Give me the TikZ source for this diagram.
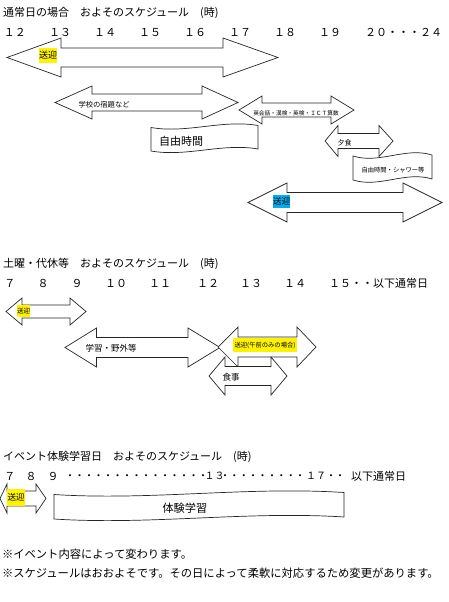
\documentclass[tikz,border=0pt]{standalone}
\usepackage{fontspec}
\setmainfont{Noto Sans CJK JP}
\newcommand\FS[1]{\fontsize{#1pt}{#1pt}\selectfont}
% double arrow: x1,x2,yc,head length left,head length right,head half height,shaft half height
\newcommand\DArrow[7]{%
  \draw[arr] (#1,#3) -- ({#1+#4},{#3-#6}) -- ({#1+#4},{#3-#7}) -- ({#2-#5},{#3-#7}) -- ({#2-#5},{#3-#6}) -- (#2,#3)
    -- ({#2-#5},{#3+#6}) -- ({#2-#5},{#3+#7}) -- ({#1+#4},{#3+#7}) -- ({#1+#4},{#3+#6}) -- cycle;}
% wave box: x1,y1(top left),x2,y2(top right),height,amplitude
\newcommand\WBox[6]{%
  \draw[wbox] (#1,#2) .. controls ({#1+(#3-#1)/3},{(2*#2+#4)/3+3.46*#6}) and ({#1+2*(#3-#1)/3},{(#2+2*#4)/3-3.46*#6}) .. (#3,#4)
    -- (#3,{#4+#5}) .. controls ({#1+2*(#3-#1)/3},{(#2+2*#4)/3+#5-3.46*#6}) and ({#1+(#3-#1)/3},{(2*#2+#4)/3+#5+3.46*#6}) .. (#1,{#2+#5}) -- cycle;}
\tikzset{
  arr/.style={draw=black!85, line width=0.7pt, fill=white, line join=miter},
  wbox/.style={draw=black!85, line width=0.7pt, fill=white},
  txt/.style={inner sep=0pt, outer sep=0pt, execute at begin node={\rule[-0.12em]{0pt}{1em}}},
  hl/.style={txt, inner sep=0pt},
}
\begin{document}
\begin{tikzpicture}[x=1pt,y=-1pt]
\useasboundingbox (0,0) rectangle (448,602);
\fill[white] (0,0) rectangle (448,602);

% ===== Section 1 =====
\node[txt, anchor=west, font=\FS{11}] (t1) at (3,13) {通常日の場合　およそのスケジュール　(時)};
\foreach \t/\x [count=\i] in {１２/15,１３/60,１４/105,１５/150,１６/195,１７/240,１８/285,１９/330}
  \node[txt, font=\FS{11}] (ra\i) at (\x,32) {\t};
\node[txt, anchor=west, font=\FS{11}] (ra9) at (365,32) {２０・・・２４};

\DArrow{7}{278}{57.5}{54}{55}{19.5}{9.5}
\node[hl, fill=yellow, minimum width=18pt, minimum height=15pt, font=\FS{9}] (a1) at (48,55.5) {送迎};

\DArrow{55}{238}{102.5}{37}{36}{16.5}{8.5}
\node[txt, anchor=west, font=\FS{7.3}] (a2) at (78.5,105) {学校の宿題など};

\DArrow{239}{354}{110}{23}{23}{14}{7}
\node[txt, font=\FS{5.7}] (a3) at (296,113) {英会話・漢検・英検・ＩＣＴ算数};

\WBox{151}{127.5}{258}{125.5}{23.5}{2}
\node[txt, anchor=west, font=\FS{11}] (b1) at (159,141.5) {自由時間};

\DArrow{325}{393}{141}{13}{14}{15.5}{7.5}
\node[txt, anchor=west, font=\FS{7}] (a4) at (337.5,143) {夕食};

\WBox{353}{156}{432}{155}{24}{2.5}
\node[txt, anchor=west, font=\FS{6.3}] (b2) at (361.5,170) {自由時間・シャワー等};

\DArrow{248}{442}{202.5}{39}{39}{19.5}{10}
\node[hl, fill=cyan, minimum width=17pt, minimum height=13pt, font=\FS{8.5}] (a5) at (281.5,201.5) {送迎};

% ===== Section 2 =====
\node[txt, anchor=west, font=\FS{11}] (t2) at (3,264) {土曜・代休等　およそのスケジュール　(時)};
\foreach \t/\x [count=\i] in {７/10,８/43,９/77,１０/116,１１/160,１２/208,１３/251,１４/295}
  \node[txt, font=\FS{11}] (rb\i) at (\x,283) {\t};
\node[txt, anchor=west, font=\FS{11}] (rb9) at (329,283) {１５・・以下通常日};

\DArrow{6}{86}{311.5}{16}{16}{13.5}{6.5}
\node[hl, fill=yellow, minimum width=13pt, minimum height=12pt, font=\FS{6.5}] (c1) at (23.5,311) {送迎};

\DArrow{65}{220}{347.5}{31.5}{32}{19.5}{10}
\node[txt, anchor=west, font=\FS{8.5}] (c2) at (85.5,348) {学習・野外等};

\DArrow{218}{316}{347}{20}{19}{20}{10}
\node[hl, fill=yellow, minimum width=64pt, minimum height=14pt, font=\FS{6.3}] (c3) at (265,345) {送迎(午前のみの場合)};

\DArrow{209}{287}{376}{16}{16}{19}{9.5}
\node[txt, anchor=west, font=\FS{8.5}] (c4) at (222.5,377) {食事};

% ===== Section 3 =====
\node[txt, anchor=west, font=\FS{11}] (t3) at (3,457) {イベント体験学習日　およそのスケジュール　(時)};
\node[txt, font=\FS{11}] (rc1) at (10,476) {７};
\node[txt, font=\FS{11}] (rc2) at (31,476) {８};
\node[txt, font=\FS{11}] (rc3) at (53,476) {９};
\foreach \k in {0,...,14}
  \node[txt, font=\FS{10}] (da\k) at ({70+\k*9.5},476) {・};
\node[txt, font=\FS{10}] (rc4) at (214.5,476) {１３};
\foreach \k in {0,...,8}
  \node[txt, font=\FS{10}] (db\k) at ({225+\k*9.4},476) {・};
\node[txt, font=\FS{10}] (rc5) at (316,476) {１７};
\node[txt, font=\FS{10}] (dc1) at (331,476) {・};
\node[txt, font=\FS{10}] (dc2) at (340,476) {・};
\node[txt, anchor=west, font=\FS{11}] (rc6) at (351,476) {以下通常日};

\DArrow{0}{46}{498.5}{7}{10}{14.5}{7.5}
\node[hl, fill=yellow, minimum width=18pt, minimum height=17pt, font=\FS{8.5}] (e1) at (16,497.5) {送迎};

\WBox{54}{494.5}{344}{492.5}{24.5}{2}
\node[txt, anchor=west, font=\FS{11.2}] (e2) at (162.5,508) {体験学習};

% ===== Notes =====
\node[txt, anchor=west, font=\FS{11.3}] (f1) at (2,554) {※イベント内容によって変わります。};
\node[txt, anchor=west, font=\FS{11.3}] (f2) at (2,573) {※スケジュールはおおよそです。その日によって柔軟に対応するため変更があります。};
\end{tikzpicture}
\end{document}
